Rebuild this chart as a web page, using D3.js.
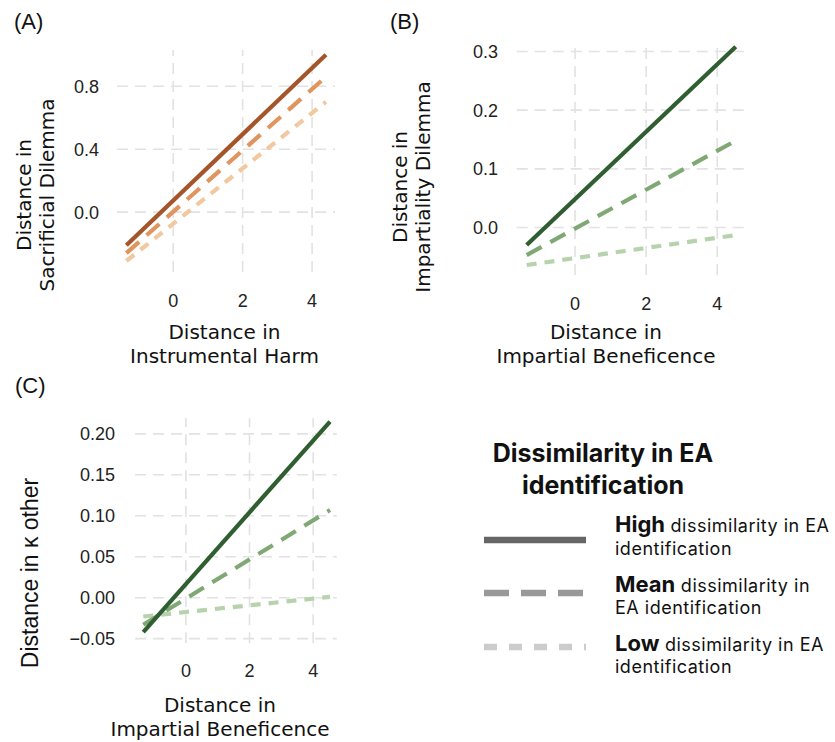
<!DOCTYPE html>
<html>
<head>
<meta charset="utf-8">
<script src="https://cdn.jsdelivr.net/npm/d3@7"></script>
<style>
  html, body { margin: 0; padding: 0; background: #fff; }
  svg { display: block; }
  .tick-lab { font-family: "Liberation Sans", Arial, sans-serif; font-size: 18px; fill: #222; }
  .title { font-family: "DejaVu Sans", sans-serif; font-size: 20px; fill: #111; }
  .panel { font-family: "Liberation Sans", Arial, sans-serif; font-size: 22px; fill: #111; }
  .ytc { font-family: "Liberation Sans", Arial, sans-serif; font-size: 23px; fill: #111; }
</style>
</head>
<body>
<script>
// ---- data ----
const levels = ["High", "Mean", "Low"];

const xA = [-1.35, 4.4];
const highA = [-0.21, 1.0];
const meanA = [-0.26, 0.86];
const lowA = [-0.31, 0.70];

const xB = [-1.36, 4.52];
const highB = [-0.03, 0.308];
const meanB = [-0.047, 0.148];
const lowB = [-0.064, -0.013];

const xC = [-1.34, 4.53];
const highC = [-0.042, 0.215];
const meanC = [-0.033, 0.107];
const lowC = [-0.023, 0.001];

const xTicks = [0, 2, 4];
const yTicksA = [0.0, 0.4, 0.8];
const yTicksB = [0.0, 0.1, 0.2, 0.3];
const yTicksC = [-0.05, 0.00, 0.05, 0.10, 0.15, 0.20];

const orange = { High: "#a5552a", Mean: "#e0955e", Low: "#f1c8a0" };
const green = { High: "#2f5e31", Mean: "#80a874", Low: "#b6d3ae" };
const dashes = { High: null, Mean: "17,10", Low: "10,8" };

const W = 835, H = 742;
const svg = d3.select("body").append("svg").attr("width", W).attr("height", H);

function panel(o) {
  const x = d3.scaleLinear().domain(o.xDom).range(o.xRange);
  const y = d3.scaleLinear().domain(o.yDom).range(o.yRange);
  const g = svg.append("g");

  // grid
  g.selectAll("line.vg").data(xTicks).join("line")
    .attr("x1", d => x(d)).attr("x2", d => x(d))
    .attr("y1", o.yRange[0]).attr("y2", o.yRange[1])
    .attr("stroke", "#e2e2e2").attr("stroke-width", 1.6).attr("stroke-dasharray", "11,7");
  g.selectAll("line.hg").data(o.yTicks).join("line")
    .attr("x1", o.xRange[0]).attr("x2", o.xRange[1])
    .attr("y1", d => y(d)).attr("y2", d => y(d))
    .attr("stroke", "#e2e2e2").attr("stroke-width", 1.6).attr("stroke-dasharray", "11,7");

  // tick labels
  g.selectAll("text.xt").data(xTicks).join("text").attr("class", "tick-lab")
    .attr("x", d => x(d)).attr("y", o.xTickY)
    .attr("text-anchor", "middle").text(d => d);
  g.selectAll("text.yt").data(o.yTicks).join("text").attr("class", "tick-lab")
    .attr("x", o.yTickX).attr("y", d => y(d) + 6.5)
    .attr("text-anchor", "end").text(d => d3.format(o.yFmt)(d));

  // lines (low drawn first, high on top)
  const line = d3.line().x(d => x(d[0])).y(d => y(d[1]));
  ["Low", "Mean", "High"].forEach(k => {
    const pts = o.xs.map((v, i) => [v, o.series[k][i]]);
    g.append("path").datum(pts)
      .attr("d", line).attr("fill", "none")
      .attr("stroke", o.colors[k]).attr("stroke-width", 4.2)
      .attr("stroke-dasharray", dashes[k]);
  });

  // titles
  o.xTitle.forEach((t, i) => {
    g.append("text").attr("class", "title")
      .attr("x", o.xTitleCx)
      .attr("y", o.xTitleY + i * 23.5).attr("text-anchor", "middle").text(t);
  });
  o.yTitle.forEach((t, i) => {
    g.append("text").attr("class", o.yTitleClass || "title")
      .attr("transform", `translate(${o.yTitleX + i * 22.5},${o.yTitleCy}) rotate(-90)`)
      .attr("text-anchor", "middle").text(t);
  });
  g.append("text").attr("class", "panel")
    .attr("x", o.label[1]).attr("y", o.label[2]).text(o.label[0]);
}

panel({
  xDom: [-1.62, 4.66], xRange: [117, 335],
  yDom: [-0.38, 1.03], yRange: [272, 50],
  yTicks: yTicksA, yFmt: ".1f",
  xs: xA, series: { High: highA, Mean: meanA, Low: lowA }, colors: orange,
  xTickY: 307, yTickX: 99,
  xTitle: ["Distance in", "Instrumental Harm"], xTitleY: 339, xTitleCx: 224.5,
  yTitle: ["Distance in", "Sacrificial Dilemma"], yTitleX: 31, yTitleCy: 195,
  label: ["(A)", 14, 29]
});

panel({
  xDom: [-1.64, 4.78], xRange: [516.7, 745],
  yDom: [-0.081, 0.314], yRange: [275, 43.3],
  yTicks: yTicksB, yFmt: ".1f",
  xs: xB, series: { High: highB, Mean: meanB, Low: lowB }, colors: green,
  xTickY: 310, yTickX: 498,
  xTitle: ["Distance in", "Impartial Beneficence"], xTitleY: 339, xTitleCx: 606,
  yTitle: ["Distance in", "Impartiality Dilemma"], yTitleX: 407, yTitleCy: 187,
  label: ["(B)", 390, 29]
});

panel({
  xDom: [-1.6, 4.74], xRange: [135, 336.7],
  yDom: [-0.0557, 0.219], yRange: [643.3, 418.3],
  yTicks: yTicksC, yFmt: ".2f",
  xs: xC, series: { High: highC, Mean: meanC, Low: lowC }, colors: green,
  xTickY: 677, yTickX: 115,
  xTitle: ["Distance in", "Impartial Beneficence"], xTitleY: 712, xTitleCx: 220,
  yTitle: ["Distance in \u03ba other"], yTitleX: 38, yTitleCy: 573, yTitleClass: "ytc",
  label: ["(C)", 15, 393]
});

// legend
const leg = svg.append("g");
["Dissimilarity in EA", "identification"].forEach((t, i) => {
  leg.append("text").attr("x", 603).attr("y", 462 + i * 32).attr("text-anchor", "middle")
    .attr("font-family", "Inter, sans-serif").attr("font-weight", 700).attr("font-size", 25)
    .attr("fill", "#111").text(t);
});

const legColors = { High: "#666", Mean: "#999", Low: "#ccc" };
const legDash = { High: null, Mean: "25,12", Low: "13,12" };
const legRows = [
  { k: "High", y: 540, l1: " dissimilarity in EA", l2: "identification", b: 532, b2: 555 },
  { k: "Mean", y: 593, l1: " dissimilarity in", l2: "EA identification", b: 592, b2: 614 },
  { k: "Low", y: 647, l1: " dissimilarity in EA", l2: "identification", b: 651, b2: 673 }
];
legRows.forEach(r => {
  leg.append("line").attr("x1", 484).attr("x2", 586).attr("y1", r.y).attr("y2", r.y)
    .attr("stroke", legColors[r.k]).attr("stroke-width", 6.5)
    .attr("stroke-dasharray", legDash[r.k]);
  const t = leg.append("text").attr("x", 615).attr("y", r.b)
    .attr("font-family", "Inter, sans-serif").attr("fill", "#111");
  t.append("tspan").attr("font-weight", 700).attr("font-size", 22).text(r.k);
  t.append("tspan").attr("font-size", 18).attr("letter-spacing", 0.5).text(r.l1);
  leg.append("text").attr("x", 615).attr("y", r.b2)
    .attr("font-family", "Inter, sans-serif").attr("font-size", 18)
    .attr("letter-spacing", 0.5).attr("fill", "#111")
    .text(r.l2);
});
</script>
</body>
</html>
